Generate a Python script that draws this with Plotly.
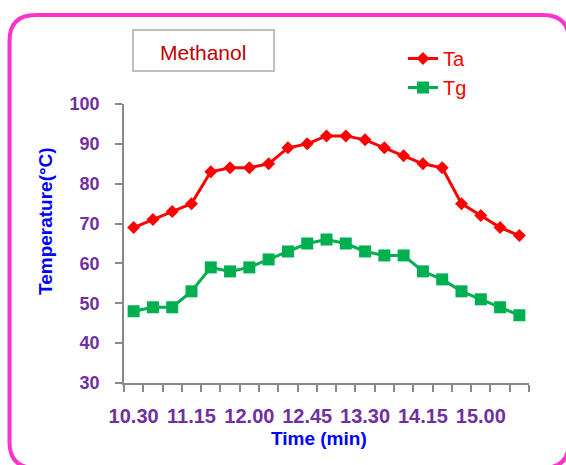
import plotly.graph_objects as go

# data
times = ["10.30", "10.45", "11.00", "11.15", "11.30", "11.45", "12.00", "12.15", "12.30",
         "12.45", "13.00", "13.15", "13.30", "13.45", "14.00", "14.15", "14.30", "14.45",
         "15.00", "15.15", "15.30"]
ta = [69, 71, 73, 75, 83, 84, 84, 85, 89, 90, 92, 92, 91, 89, 87, 85, 84, 75, 72, 69, 67]
tg = [48, 49, 49, 53, 59, 58, 59, 61, 63, 65, 66, 65, 63, 62, 62, 58, 56, 53, 51, 49, 47]

W, H = 566, 465
L, R, T, B = 124, 37, 104, 82
PW, PH = W - L - R, H - T - B

# pixel -> paper coords
def px(x):
    return (x - L) / PW

def py(y):
    return 1 - (y - T) / PH

PURPLE = "#7030A0"
AXIS = "#888888"

idx = list(range(len(times)))

fig = go.Figure()
fig.add_trace(go.Scatter(
    x=idx, y=ta, name="Ta", mode="lines+markers",
    line=dict(color="#FF0000", width=3),
    marker=dict(symbol="diamond", size=10, color="#FF0000"),
))
fig.add_trace(go.Scatter(
    x=idx, y=tg, name="Tg", mode="lines+markers",
    line=dict(color="#00B050", width=3),
    marker=dict(symbol="square", size=12, color="#00B050"),
))

# rounded pink frame
x0, y0, x1, y1, r = 9.5, 15, 569, 468, 26
rx, ry = r / PW, r / PH
fx0, fx1, fy0, fy1 = px(x0), px(x1), py(y0), py(y1)
path = (f"M {fx0+rx},{fy0} L {fx1-rx},{fy0} Q {fx1},{fy0} {fx1},{fy0-ry} "
        f"L {fx1},{fy1+ry} Q {fx1},{fy1} {fx1-rx},{fy1} "
        f"L {fx0+rx},{fy1} Q {fx0},{fy1} {fx0},{fy1+ry} "
        f"L {fx0},{fy0-ry} Q {fx0},{fy0} {fx0+rx},{fy0} Z")

shapes = [
    dict(type="path", xref="paper", yref="paper", path=path,
         line=dict(color="#FF33CC", width=4)),
    dict(type="rect", xref="paper", yref="paper",
         x0=px(133), x1=px(274), y0=py(30), y1=py(71),
         line=dict(color="#BFBFBF", width=2)),
]

def label(text, x, y, size, color, bold=False, angle=0):
    return dict(text=text, x=px(x), y=py(y), xref="paper", yref="paper",
                xanchor="center", yanchor="middle", showarrow=False, textangle=angle,
                font=dict(family="Arial", size=size, color=color,
                          weight="bold" if bold else "normal"))

annotations = [
    label("Methanol", 203, 52, 21, "#C00000"),
    label("Time (min)", 319, 439, 19, "#0000FF", bold=True),
    label("Temperature(°C)", 45, 221, 19, "#0000FF", bold=True, angle=-90),
]

fig.update_layout(
    width=W, height=H,
    margin=dict(l=L, r=R, t=T, b=B, autoexpand=False),
    paper_bgcolor="white", plot_bgcolor="white",
    font=dict(family="Arial"),
    showlegend=True,
    legend=dict(x=px(403), y=py(39), xanchor="left", yanchor="top",
                font=dict(size=20, color="#FF0000"), bgcolor="rgba(0,0,0,0)",
                tracegroupgap=2),
    shapes=shapes,
    annotations=annotations,
    xaxis=dict(
        range=[-0.5, len(times) - 0.5], showgrid=False, zeroline=False, automargin=False,
        showline=True, linecolor=AXIS, linewidth=1.5,
        tickmode="array", tickvals=idx[::3], ticktext=times[::3],
        ticks="", ticklabelstandoff=14,
        tickfont=dict(size=20, color=PURPLE, weight="bold"),
        minor=dict(tickmode="array", tickvals=[i - 0.5 for i in range(len(times) + 1)],
                   ticks="outside", ticklen=7, tickcolor=AXIS, tickwidth=1.5),
    ),
    yaxis=dict(
        range=[30, 100], dtick=10, showgrid=False, zeroline=False, automargin=False,
        showline=True, linecolor=AXIS, linewidth=1.5,
        ticks="outside", ticklen=7, tickcolor=AXIS, tickwidth=1.5,
        ticklabelstandoff=12,
        tickfont=dict(size=18, color=PURPLE, weight="bold"),
    ),
)

# drop the default body margin so the figure fills the window
fig.write_html("out.html", config=dict(displayModeBar=False),
               post_script="document.body.style.margin='0';")
